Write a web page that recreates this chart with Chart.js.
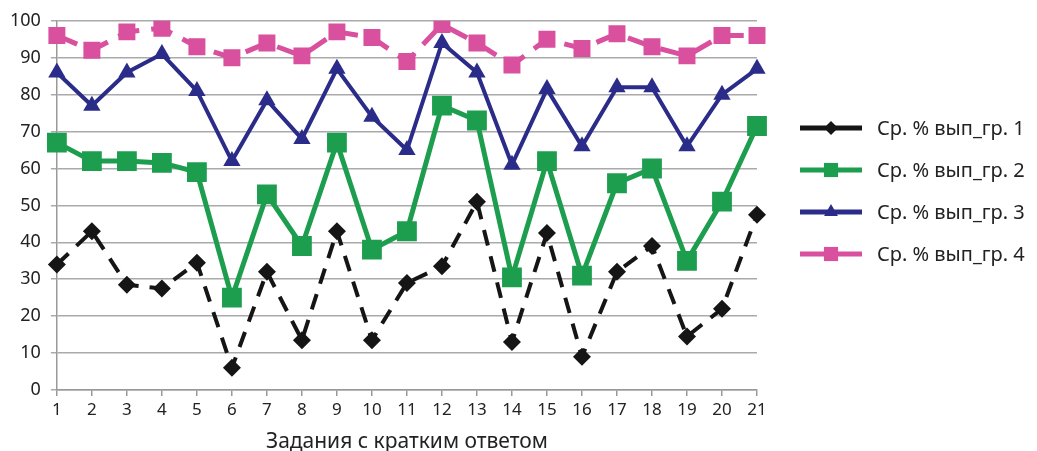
<!DOCTYPE html>
<html>
<head>
<meta charset="utf-8">
<script src="https://cdn.jsdelivr.net/npm/chart.js@4"></script>
<style>
  html, body { margin: 0; padding: 0; background: #fff; }
  #wrap { width: 1037px; height: 451px; position: relative; }
</style>
</head>
<body>
<div id="wrap"><canvas id="chart"></canvas></div>
<script>
  "use strict";

  // данные
  const tasks = ["1","2","3","4","5","6","7","8","9","10","11","12","13","14","15","16","17","18","19","20","21"];
  const grp1 = [34, 43, 28.5, 27.5, 34.5, 6, 32, 13.5, 43, 13.5, 29, 33.5, 51, 13, 42.5, 9, 32, 39, 14.5, 22, 47.5];
  const grp2 = [67, 62, 62, 61.5, 59, 25, 53, 39, 67, 38, 43, 77, 73, 30.5, 62, 31, 56, 60, 35, 51, 71.5];
  const grp3 = [86, 77, 86, 91, 81, 62, 78.5, 68, 87, 74, 65, 94, 86, 61, 81.5, 66, 82, 82, 66, 80, 87];
  const grp4 = [96, 92, 97, 98, 93, 90, 94, 90.5, 97, 95.5, 89, 99, 94, 88, 95, 92.5, 96.5, 93, 90.5, 96, 96];
  const seriesNames = ["Ср. % вып_гр. 1", "Ср. % вып_гр. 2", "Ср. % вып_гр. 3", "Ср. % вып_гр. 4"];
  const yTicks = [0, 10, 20, 30, 40, 50, 60, 70, 80, 90, 100];
  const xTitle = "Задания с кратким ответом";

  const FONT = "'Noto Sans', 'Open Sans', sans-serif";

  const styles = [
    { color: "#151515", width: 4, dash: [16, 11], point: "rectRot", radius: 9, legendRadius: 7 },
    { color: "#1d9e4f", width: 5, dash: [], point: "rect", radius: 14, legendRadius: 10 },
    { color: "#2b2c8a", width: 4, dash: [], point: "triangle", radius: 10, legendRadius: 8 },
    { color: "#d9509e", width: 5, dash: [22, 12], point: "rect", radius: 12, legendRadius: 10 },
  ];

  function dataset(label, data, s) {
    return {
      label: label, data: data,
      borderColor: s.color, backgroundColor: s.color,
      borderWidth: s.width, borderDash: s.dash,
      pointStyle: s.point, pointRadius: s.radius, pointHoverRadius: s.radius,
      pointBorderWidth: 0, tension: 0,
    };
  }

  // легенда справа: линия с маркером + подпись
  const sideLegend = {
    id: "sideLegend",
    afterDraw(chart) {
      const ctx = chart.ctx;
      const x0 = 800, x1 = 862, tx = 877;
      const ys = [128, 170, 212, 254];
      chart.data.datasets.forEach((ds, i) => {
        const s = styles[i];
        const y = ys[i];
        ctx.save();
        ctx.strokeStyle = s.color;
        ctx.lineWidth = 5;
        ctx.beginPath();
        ctx.moveTo(x0, y);
        ctx.lineTo(x1, y);
        ctx.stroke();
        ctx.fillStyle = s.color;
        Chart.helpers.drawPoint(ctx, { pointStyle: s.point, radius: s.legendRadius, borderWidth: 0 }, (x0 + x1) / 2, y);
        ctx.fillStyle = "#222";
        ctx.font = "20px " + FONT;
        ctx.textBaseline = "middle";
        ctx.textAlign = "left";
        ctx.fillText(ds.label, tx, y + 1);
        ctx.restore();
      });
    },
  };

  new Chart(document.getElementById("chart"), {
    type: "line",
    data: {
      labels: tasks,
      datasets: [
        dataset(seriesNames[0], grp1, styles[0]),
        dataset(seriesNames[1], grp2, styles[1]),
        dataset(seriesNames[2], grp3, styles[2]),
        dataset(seriesNames[3], grp4, styles[3]),
      ],
    },
    options: {
      responsive: true,
      maintainAspectRatio: false,
      animation: false,
      layout: { padding: { left: 0, right: 280, top: 18, bottom: -2 } },
      plugins: {
        legend: { display: false },
        tooltip: { enabled: false },
      },
      scales: {
        x: {
          offset: false,
          grid: { display: true, drawOnChartArea: false, drawTicks: true, tickLength: 6, color: "#999", lineWidth: 1.5 },
          border: { color: "#999", width: 1.5 },
          ticks: { color: "#222", font: { size: 17, family: FONT, lineHeight: 1 }, padding: 6, maxRotation: 0, autoSkip: false },
          title: { display: true, text: xTitle, color: "#222", font: { size: 21, family: FONT, lineHeight: 1 }, padding: { top: 7, bottom: 0 } },
        },
        y: {
          min: 0, max: 100,
          afterBuildTicks(axis) { axis.ticks = yTicks.map((v) => ({ value: v })); },
          grid: { color: "#aaa", lineWidth: 1.5, drawTicks: true, tickLength: 6 },
          border: { color: "#999", width: 1.5 },
          ticks: { color: "#222", font: { size: 18, family: FONT }, padding: 10 },
        },
      },
    },
    plugins: [sideLegend],
  });
</script>
</body>
</html>
